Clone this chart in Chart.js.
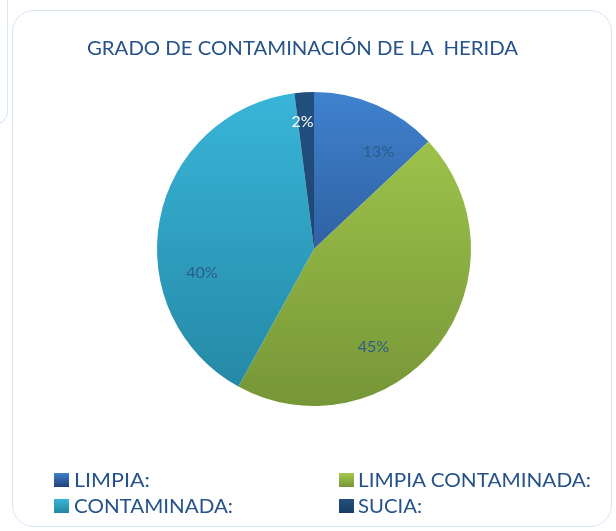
<!DOCTYPE html>
<html>
<head>
<meta charset="utf-8">
<script src="https://cdn.jsdelivr.net/npm/chart.js@4/dist/chart.umd.min.js"></script>
<style>
  html, body { margin: 0; padding: 0; background: #fff; }
  body { width: 616px; height: 531px; position: relative; overflow: hidden; font-family: Lato, "Open Sans", sans-serif; }
  #frame { position: absolute; left: 12px; top: 10px; width: 600px; height: 517px; border: 1.5px solid #d6e4f4; border-radius: 22px; box-sizing: border-box; }
  #stray { position: absolute; left: -20px; top: -20px; width: 28px; height: 145px; border-right: 1.5px solid #d6e4f4; border-bottom: 1.5px solid #d6e4f4; border-bottom-right-radius: 14px; box-sizing: border-box; }
  #chart { position: absolute; left: 0; top: 0; }
  .txt { position: absolute; white-space: nowrap; color: #25528a; transform-origin: 0 0; }
  #title { left: 87px; top: 38px; font-size: 19.5px; line-height: 20px; }
  .lg { font-size: 18.5px; line-height: 20px; }
  .sw { position: absolute; width: 15px; height: 14px; }
</style>
</head>
<body>
<div id="stray"></div>
<div id="frame"></div>
<canvas id="chart" width="616" height="531"></canvas>
<div id="title" class="txt">GRADO DE CONTAMINACIÓN DE LA&nbsp; HERIDA</div>
<div id="legend"></div>
<script>
// ===== Data =====
const categories = ['LIMPIA:', 'LIMPIA CONTAMINADA:', 'CONTAMINADA:', 'SUCIA:'];
const percentages = [13, 45, 40, 2];

// gradient colours, top -> bottom
const topColors    = ['#3f82ce', '#a4ca4e', '#39b5d9', '#21507f'];
const bottomColors = ['#213f78', '#769637', '#2386a2', '#1b3c66'];
const labelColors  = ['#2c5d8a', '#2c5d8a', '#2c5d8a', '#ffffff'];

// label placement tweaks (Excel "best fit")
const labelShiftDeg = [10, 21, -23, -1.5];
const labelRadius   = [0.745, 0.73, 0.73, 0.815];

function sliceGradient(ctx) {
  const chart = ctx.chart;
  const area = chart.chartArea;
  if (!area) return topColors[ctx.dataIndex];
  const g = chart.ctx.createLinearGradient(0, area.top, 0, area.bottom);
  g.addColorStop(0, topColors[ctx.dataIndex]);
  g.addColorStop(1, bottomColors[ctx.dataIndex]);
  return g;
}

const pctLabels = {
  id: 'pctLabels',
  afterDatasetsDraw(chart) {
    const c = chart.ctx;
    const meta = chart.getDatasetMeta(0);
    c.save();
    c.font = '16px Lato, "Open Sans", sans-serif';
    c.textAlign = 'center';
    c.textBaseline = 'middle';
    meta.data.forEach((arc, i) => {
      const p = arc.getProps(['x', 'y', 'startAngle', 'endAngle', 'outerRadius'], true);
      const mid = (p.startAngle + p.endAngle) / 2 + labelShiftDeg[i] * Math.PI / 180;
      const r = p.outerRadius * labelRadius[i];
      c.fillStyle = labelColors[i];
      c.fillText(percentages[i] + '%', p.x + Math.cos(mid) * r, p.y + Math.sin(mid) * r);
    });
    c.restore();
  }
};

new Chart(document.getElementById('chart'), {
  type: 'pie',
  data: {
    labels: categories,
    datasets: [{
      data: percentages,
      backgroundColor: sliceGradient,
      borderWidth: 0
    }]
  },
  options: {
    responsive: false,
    animation: false,
    layout: { padding: { top: 92, bottom: 125, left: 157, right: 145 } },
    plugins: { legend: { display: false }, tooltip: { enabled: false }, title: { display: false } }
  },
  plugins: [pctLabels]
});

// ===== HTML legend (two columns) =====
const legendPos = [
  { sx: 54, tx: 74, row: 0 }, { sx: 339, tx: 358, row: 0 },
  { sx: 54, tx: 74, row: 1 }, { sx: 339, tx: 358, row: 1 }
];
const legendWidths = [76, 233, 159, 64];
const legend = document.getElementById('legend');
categories.forEach((name, i) => {
  const pos = legendPos[i];
  const sw = document.createElement('div');
  sw.className = 'sw';
  sw.style.left = pos.sx + 'px';
  sw.style.top = (473 + pos.row * 26) + 'px';
  sw.style.background = `linear-gradient(${topColors[i]}, ${bottomColors[i]})`;
  legend.appendChild(sw);
  const t = document.createElement('div');
  t.className = 'txt lg';
  t.textContent = name;
  t.style.left = pos.tx + 'px';
  t.style.top = (469.5 + pos.row * 26) + 'px';
  legend.appendChild(t);
  fitWidth(t, legendWidths[i]);
});

function fitWidth(el, w) {
  const actual = el.getBoundingClientRect().width;
  if (actual > 0) el.style.transform = `scaleX(${w / actual})`;
}
fitWidth(document.getElementById('title'), 431);
</script>
</body>
</html>
